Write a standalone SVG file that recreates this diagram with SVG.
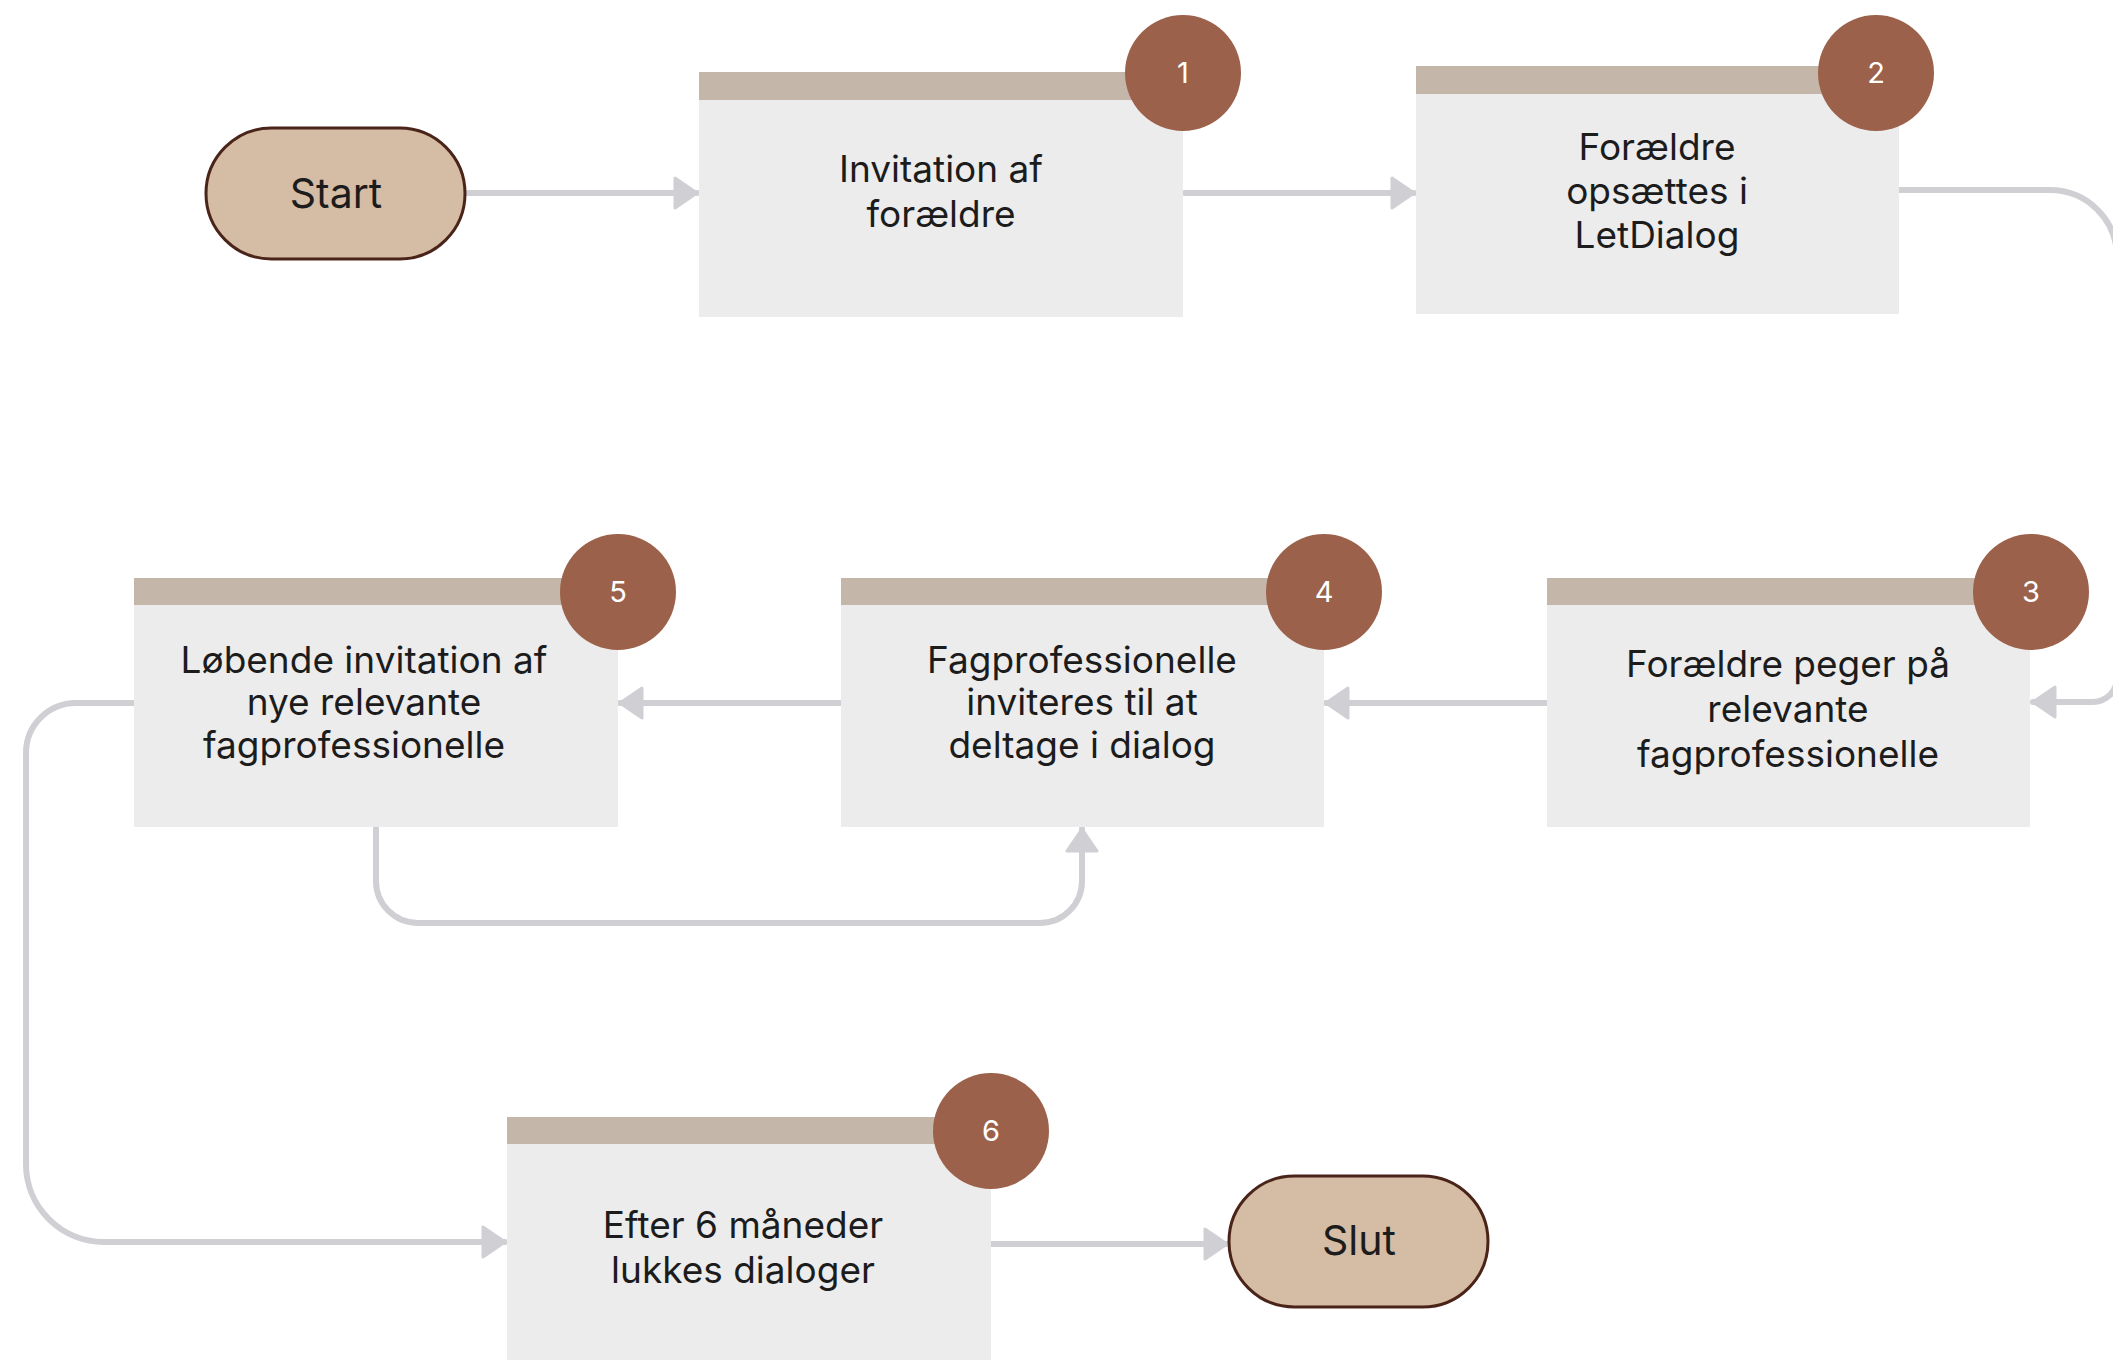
<svg xmlns="http://www.w3.org/2000/svg" width="2113" height="1360" viewBox="0 0 2113 1360">
<style>
.bg{fill:#ffffff}
.box{fill:#ececec}
.hdr{fill:#c4b7aa}
.badge{fill:#9c614a}
.num{font-family:Inter,"Liberation Sans",sans-serif;font-size:29px;fill:#ffffff;text-anchor:middle}
.lbl{font-family:Inter,"Liberation Sans",sans-serif;font-size:37px;fill:#1c1c1c;text-anchor:middle}
.pill{fill:#d5bca4;stroke:#4b2419;stroke-width:3}
.plbl{font-family:Inter,"Liberation Sans",sans-serif;font-size:41px;fill:#1c1c1c;text-anchor:middle}
.conn{fill:none;stroke:#cfcfd4;stroke-width:6;stroke-linecap:round;stroke-linejoin:round}
</style>
<defs>
<marker id="arrow" viewBox="0 0 26 36" refX="24" refY="18" markerWidth="26" markerHeight="36" markerUnits="userSpaceOnUse" orient="auto">
<path d="M2,3 L24,18 L2,33 Z" fill="#cfcfd4" stroke="#cfcfd4" stroke-width="3" stroke-linejoin="round"/>
</marker>
</defs>
<rect class="bg" x="0" y="0" width="2113" height="1360"/>

<g id="connectors">
<path class="conn" d="M466,193 L697,193" marker-end="url(#arrow)"/>
<path class="conn" d="M1185,193 L1414,193" marker-end="url(#arrow)"/>
<path class="conn" d="M1899,190 L2050,190 A67,67 0 0 1 2117,257 L2117,678 A24,24 0 0 1 2093,702 L2033,702" marker-end="url(#arrow)"/>
<path class="conn" d="M1547,703 L1326,703" marker-end="url(#arrow)"/>
<path class="conn" d="M841,703 L620,703" marker-end="url(#arrow)"/>
<path class="conn" d="M376,827 L376,881 A42,42 0 0 0 418,923 L1040,923 A42,42 0 0 0 1082,881 L1082,829" marker-end="url(#arrow)"/>
<path class="conn" d="M134,703 L76,703 A50,50 0 0 0 26,753 L26,1164 A78,78 0 0 0 104,1242 L505,1242" marker-end="url(#arrow)"/>
<path class="conn" d="M991,1244 L1227,1244" marker-end="url(#arrow)"/>
</g>

<g id="start">
<rect class="pill" x="206" y="128" width="259" height="131" rx="65.5"/>
<text class="plbl" x="336" y="208">Start</text>
</g>

<g id="node1">
<rect class="box" x="699" y="72" width="484" height="245"/>
<rect class="hdr" x="699" y="72" width="484" height="28"/>
<text class="lbl" x="941" y="182">Invitation af</text>
<text class="lbl" x="941" y="227">forældre</text>
<circle class="badge" cx="1183" cy="73" r="58"/>
<text class="num" x="1183" y="83">1</text>
</g>

<g id="node2">
<rect class="box" x="1416" y="66" width="483" height="248"/>
<rect class="hdr" x="1416" y="66" width="483" height="28"/>
<text class="lbl" x="1657" y="160">Forældre</text>
<text class="lbl" x="1657" y="204">opsættes i</text>
<text class="lbl" x="1657" y="248">LetDialog</text>
<circle class="badge" cx="1876" cy="73" r="58"/>
<text class="num" x="1876" y="83">2</text>
</g>

<g id="node3">
<rect class="box" x="1547" y="578" width="483" height="249"/>
<rect class="hdr" x="1547" y="578" width="483" height="27"/>
<text class="lbl" x="1788" y="677">Forældre peger på</text>
<text class="lbl" x="1788" y="722">relevante</text>
<text class="lbl" x="1788" y="767">fagprofessionelle</text>
<circle class="badge" cx="2031" cy="592" r="58"/>
<text class="num" x="2031" y="602">3</text>
</g>

<g id="node4">
<rect class="box" x="841" y="578" width="483" height="249"/>
<rect class="hdr" x="841" y="578" width="483" height="27"/>
<text class="lbl" x="1082" y="673">Fagprofessionelle</text>
<text class="lbl" x="1082" y="715">inviteres til at</text>
<text class="lbl" x="1082" y="758">deltage i dialog</text>
<circle class="badge" cx="1324" cy="592" r="58"/>
<text class="num" x="1324" y="602">4</text>
</g>

<g id="node5">
<rect class="box" x="134" y="578" width="484" height="249"/>
<rect class="hdr" x="134" y="578" width="484" height="27"/>
<text class="lbl" x="364" y="673">Løbende invitation af</text>
<text class="lbl" x="364" y="715">nye relevante</text>
<text class="lbl" x="354" y="758">fagprofessionelle</text>
<circle class="badge" cx="618" cy="592" r="58"/>
<text class="num" x="618" y="602">5</text>
</g>

<g id="node6">
<rect class="box" x="507" y="1117" width="484" height="260"/>
<rect class="hdr" x="507" y="1117" width="484" height="27"/>
<text class="lbl" x="743" y="1238">Efter 6 måneder</text>
<text class="lbl" x="743" y="1283">lukkes dialoger</text>
<circle class="badge" cx="991" cy="1131" r="58"/>
<text class="num" x="991" y="1141">6</text>
</g>

<g id="slut">
<rect class="pill" x="1229" y="1176" width="259" height="131" rx="65.5"/>
<text class="plbl" x="1359" y="1255">Slut</text>
</g>
</svg>
